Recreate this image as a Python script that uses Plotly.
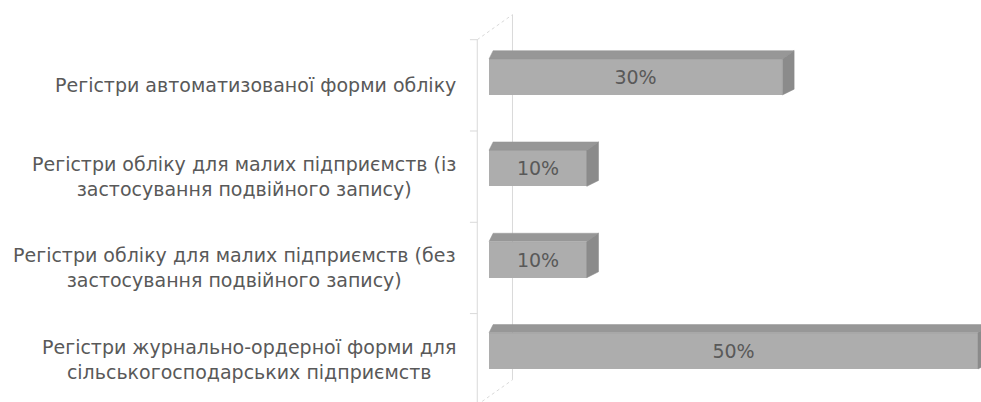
import plotly.graph_objects as go

# Register types (top to bottom) and their shares, %
categories = [
    "Регістри автоматизованої форми обліку",
    "Регістри обліку для малих підприємств (із<br>застосування подвійного запису)",
    "Регістри обліку для малих підприємств (без<br>застосування подвійного запису)",
    "Регістри журнально-ордерної форми для<br>сільськогосподарських підприємств",
]
values = [30, 10, 10, 50]
value_labels = ["30%", "10%", "10%", "50%"]

# Styling
FRONT = "rgb(173,173,173)"
TOP = "rgb(151,151,151)"
SIDE = "rgb(139,139,139)"
WALL = "rgb(217,217,217)"
TEXT = "rgb(89,89,89)"
FONT = "DejaVu Sans, Verdana, sans-serif"

X_RANGE = [-2.965, 50.307]
Y_RANGE = [3.5597, -0.8434]

BAR_H = 0.395            # bar thickness in category units
DEPTH_X = 3.6            # full floor depth, horizontal component (value units)
DEPTH_Y = -0.274         # full floor depth, vertical component (category units)
BAR_D0, BAR_D1 = 1 / 3, 2 / 3   # bars occupy the middle third of the depth

pos = list(range(len(categories)))
fig = go.Figure()

# Front faces of the bars
fig.add_trace(go.Bar(
    y=pos, x=values, base=0, orientation="h", width=BAR_H,
    marker=dict(color=FRONT, line=dict(width=0)),
    text=value_labels, textposition="inside", insidetextanchor="middle",
    textangle=0, constraintext="none",
    textfont=dict(family=FONT, size=19, color=TEXT),
    hoverinfo="skip",
))

# Top and right faces give the bars their depth
ox = DEPTH_X * (BAR_D1 - BAR_D0)
oy = DEPTH_Y * (BAR_D1 - BAR_D0)
for p, v in zip(pos, values):
    top = p - BAR_H / 2
    bot = p + BAR_H / 2
    fig.add_trace(go.Scatter(
        x=[0, v, v + ox, ox * 0.35, 0],
        y=[top, top, top + oy, top + oy, top],
        fill="toself", fillcolor=TOP, mode="lines",
        line=dict(color=TOP, width=0.5), hoverinfo="skip",
    ))
    fig.add_trace(go.Scatter(
        x=[v, v + ox, v + ox, v, v],
        y=[top, top + oy, bot + oy * 0.7, bot, top],
        fill="toself", fillcolor=SIDE, mode="lines",
        line=dict(color=SIDE, width=0.5), hoverinfo="skip",
    ))

# Side wall behind the category axis
fx = -DEPTH_X * BAR_D0            # x of the value-zero plane at the front
fy = -DEPTH_Y * BAR_D0            # vertical shift of the front plane
y_top = -0.5 + fy
y_bot = len(categories) - 0.5 + fy
bx, by = fx + DEPTH_X, DEPTH_Y
shapes = [
    dict(type="line", x0=fx, x1=fx, y0=y_top, y1=y_bot + 0.2),
    dict(type="line", x0=bx, x1=bx, y0=y_top + by, y1=y_bot + by),
    dict(type="line", x0=fx, x1=bx, y0=y_top, y1=y_top + by, dash="dot"),
    dict(type="line", x0=fx, x1=bx, y0=y_bot, y1=y_bot + by, dash="dot"),
]
for k in range(len(categories) + 1):
    yk = k - 0.5 + fy
    shapes.append(dict(type="line", x0=fx - 0.75, x1=fx, y0=yk, y1=yk))
fig.update_layout(shapes=[
    dict(s, xref="x", yref="y", layer="below",
         line=dict(color=WALL, width=1, dash=s.pop("dash", "solid")))
    for s in shapes
])

# Category labels, centred line by line, right edge next to the wall
label_x = (fx - 2.0 - X_RANGE[0]) / (X_RANGE[1] - X_RANGE[0])   # in paper units
for p, name in zip(pos, categories):
    fig.add_annotation(
        x=label_x, y=p + fy, xref="paper", yref="y",
        text=name, showarrow=False, xanchor="right", yanchor="middle",
        align="center", font=dict(family=FONT, size=19, color=TEXT),
    )

fig.update_layout(
    width=981, height=402,
    margin=dict(l=460, r=0, t=0, b=0),
    paper_bgcolor="white", plot_bgcolor="white",
    showlegend=False, bargap=0,
    xaxis=dict(range=X_RANGE, visible=False, fixedrange=True),
    yaxis=dict(range=Y_RANGE, visible=False, fixedrange=True),
)

fig.write_html("out.html")
